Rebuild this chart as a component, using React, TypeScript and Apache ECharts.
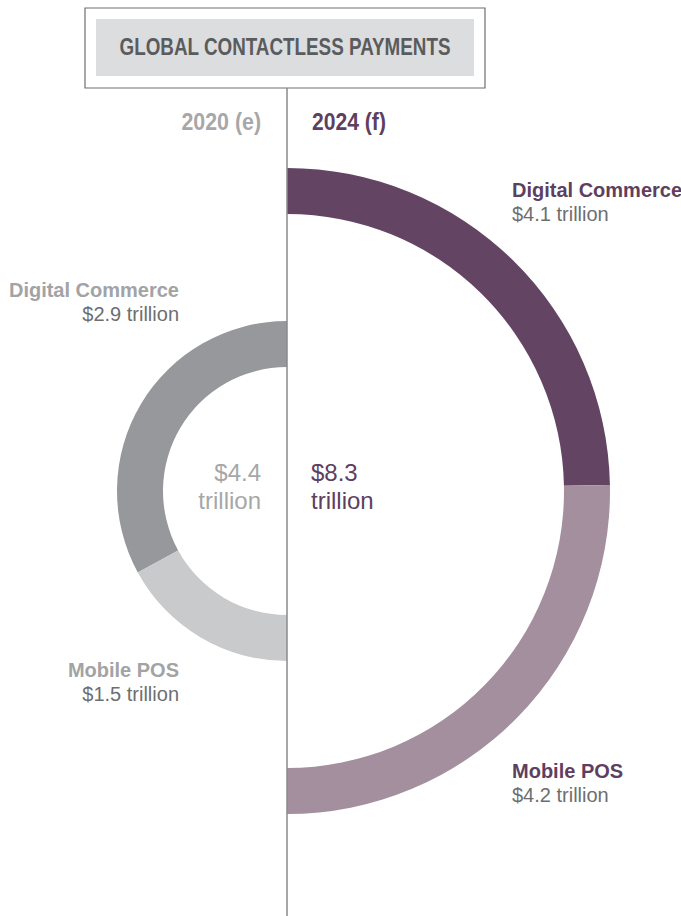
import React, { useEffect, useRef } from "react";
import * as echarts from "echarts";

const title = "GLOBAL CONTACTLESS PAYMENTS";
const years = ["2020 (e)", "2024 (f)"];
const categories = ["Digital Commerce", "Mobile POS"];
const values2020 = [2.9, 1.5];
const values2024 = [4.1, 4.2];
const unit = "trillion";

const colors2020 = ["#97989b", "#c9cacc"];
const colors2024 = ["#634563", "#a48f9f"];
const PURPLE = "#5e3f5f";
const GRAY_LABEL = "#a2a3a5";
const VALUE_GRAY = "#6d6e70";
const SANS = "'Liberation Sans', Arial, Helvetica, sans-serif";

const sum = (a: number[]) => a.reduce((s, v) => s + v, 0);

export default function App() {
  const ref = useRef<HTMLDivElement>(null);
  useEffect(() => {
    if (!ref.current) return;
    const chart = echarts.init(ref.current, undefined, { renderer: "svg" });
    const cx = 287;
    const cy = 491;
    const t20 = sum(values2020);
    const t24 = sum(values2024);

    const makeData = (vals: number[], cols: string[], total: number) => [
      ...vals.map((v, i) => ({ name: categories[i], value: v, itemStyle: { color: cols[i] } })),
      { name: "_blank", value: total, itemStyle: { color: "rgba(0,0,0,0)" } },
    ];

    const catText = (x: number, y: number, name: string, val: number, color: string, align: string) => [
      {
        type: "text",
        x,
        y,
        style: { text: name, fill: color, font: `bold 20px ${SANS}`, textAlign: align, textVerticalAlign: "middle" },
      },
      {
        type: "text",
        x,
        y: y + 24,
        style: { text: `$${val.toFixed(1)} ${unit}`, fill: VALUE_GRAY, font: `20px ${SANS}`, textAlign: align, textVerticalAlign: "middle" },
      },
    ];

    chart.setOption({
      animation: false,
      series: [
        {
          type: "pie",
          center: [cx, cy],
          radius: [124, 170],
          startAngle: 90,
          clockwise: false,
          silent: true,
          label: { show: false },
          labelLine: { show: false },
          emphasis: { disabled: true },
          data: makeData(values2020, colors2020, t20),
        },
        {
          type: "pie",
          center: [cx, cy],
          radius: [277, 323],
          startAngle: 90,
          clockwise: true,
          silent: true,
          label: { show: false },
          labelLine: { show: false },
          emphasis: { disabled: true },
          data: makeData(values2024, colors2024, t24),
        },
      ],
      graphic: [
        {
          type: "rect",
          shape: { x: 85, y: 8, width: 400, height: 80 },
          style: { fill: "#fff", stroke: "#6d6e70", lineWidth: 1.2 },
          z: 10,
        },
        {
          type: "rect",
          shape: { x: 96, y: 19, width: 378, height: 57 },
          style: { fill: "#dcdddf" },
          z: 11,
        },
        {
          type: "text",
          x: 285,
          y: 47,
          scaleX: 0.785,
          z: 12,
          style: { text: title, fill: "#5a5b5d", font: `bold 24px ${SANS}`, textAlign: "center", textVerticalAlign: "middle" },
        },
        {
          type: "line",
          shape: { x1: cx, y1: 88, x2: cx, y2: 916 },
          style: { stroke: "#8a8a8c", lineWidth: 1.5 },
          z: 20,
        },
        {
          type: "text",
          x: 261,
          y: 122,
          scaleX: 0.89,
          style: { text: years[0], fill: "#a7a7a9", font: `bold 24px ${SANS}`, textAlign: "right", textVerticalAlign: "middle" },
        },
        {
          type: "text",
          x: 312,
          y: 122,
          scaleX: 0.88,
          style: { text: years[1], fill: PURPLE, font: `bold 24px ${SANS}`, textAlign: "left", textVerticalAlign: "middle" },
        },
        {
          type: "text",
          x: 261,
          y: 486,
          style: {
            text: `$${t20.toFixed(1)}\n${unit}`,
            fill: "#a7a7a9",
            font: `24px ${SANS}`,
            textAlign: "right",
            textVerticalAlign: "middle",
            lineHeight: 28,
          },
        },
        {
          type: "text",
          x: 311,
          y: 486,
          style: {
            text: `$${t24.toFixed(1)}\n${unit}`,
            fill: PURPLE,
            font: `24px ${SANS}`,
            textAlign: "left",
            textVerticalAlign: "middle",
            lineHeight: 28,
          },
        },
        ...catText(179, 290, categories[0], values2020[0], GRAY_LABEL, "right"),
        ...catText(179, 670, categories[1], values2020[1], GRAY_LABEL, "right"),
        ...catText(512, 190, categories[0], values2024[0], PURPLE, "left"),
        ...catText(512, 771, categories[1], values2024[1], PURPLE, "left"),
      ],
    });
    return () => chart.dispose();
  }, []);
  return <div ref={ref} style={{ position: "absolute", left: 0, top: 0, width: 681, height: 916 }} />;
}
